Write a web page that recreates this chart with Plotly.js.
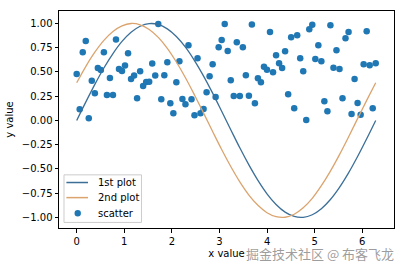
<!DOCTYPE html>
<html>
<head>
<meta charset="utf-8">
<script src="https://cdn.plot.ly/plotly-3.0.1.min.js"></script>
<style>
  html, body { margin: 0; padding: 0; background: #ffffff; }
  #chart { width: 404px; height: 266px; }
</style>
</head>
<body>
<div id="chart"></div>
<script>
// Line sample positions and values
const lineX = [0, 0.190, 0.381, 0.571, 0.762, 0.952, 1.142, 1.333, 1.523, 1.714, 1.904, 2.094, 2.285, 2.475, 2.666, 2.856, 3.046, 3.237, 3.427, 3.618, 3.808, 3.998, 4.189, 4.379, 4.570, 4.760, 4.950, 5.141, 5.331, 5.522, 5.712, 5.902, 6.093, 6.283];
const firstPlotY = [0, 0.189, 0.372, 0.541, 0.690, 0.815, 0.910, 0.972, 0.999, 0.990, 0.945, 0.866, 0.756, 0.618, 0.458, 0.282, 0.095, -0.095, -0.282, -0.458, -0.618, -0.756, -0.866, -0.945, -0.990, -0.999, -0.972, -0.910, -0.815, -0.690, -0.541, -0.372, -0.189, 0];
const secondPlotY = [0.389, 0.556, 0.704, 0.826, 0.918, 0.976, 1.000, 0.987, 0.938, 0.857, 0.744, 0.603, 0.441, 0.263, 0.076, -0.114, -0.300, -0.475, -0.633, -0.769, -0.875, -0.951, -0.992, -0.998, -0.967, -0.900, -0.803, -0.673, -0.522, -0.352, -0.170, 0.019, 0.207, 0.389];

// Scatter points
const scatterX = [0, 0.063, 0.127, 0.190, 0.254, 0.317, 0.381, 0.444, 0.508, 0.571, 0.635, 0.698, 0.762, 0.825, 0.889, 0.952, 1.015, 1.079, 1.142, 1.206, 1.269, 1.333, 1.396, 1.460, 1.523, 1.587, 1.650, 1.714, 1.777, 1.841, 1.904, 1.967, 2.031, 2.094, 2.158, 2.221, 2.285, 2.348, 2.412, 2.475, 2.539, 2.602, 2.666, 2.729, 2.792, 2.856, 2.919, 2.983, 3.046, 3.110, 3.173, 3.237, 3.300, 3.364, 3.427, 3.491, 3.554, 3.618, 3.681, 3.744, 3.808, 3.871, 3.935, 3.998, 4.062, 4.125, 4.189, 4.252, 4.316, 4.379, 4.443, 4.506, 4.570, 4.633, 4.696, 4.760, 4.823, 4.887, 4.950, 5.014, 5.077, 5.141, 5.204, 5.268, 5.331, 5.395, 5.458, 5.522, 5.585, 5.648, 5.712, 5.775, 5.839, 5.902, 5.966, 6.029, 6.093, 6.156, 6.220, 6.283];
const scatterY = [0.479, 0.116, 0.703, 0.819, 0.024, 0.410, 0.281, 0.541, 0.521, 0.703, 0.263, 0.438, 0.263, 0.836, 0.531, 0.510, 0.567, 0.692, 0.428, 0.464, 0.229, 0.508, 0.356, 0.397, 0.400, 0.587, 0.464, 0.995, 0.219, 0.466, 0.600, 0.178, 0.075, 0.394, 0.610, 0.222, 0.168, 0.775, 0.219, 0.055, 0.641, 0.075, 0.119, 0.291, 0.456, 0.579, 0.243, 0.754, 0.829, 0.995, 0.716, 0.415, 0.253, 0.807, 0.253, 0.754, 0.467, 0.255, 0.990, 0.178, 0.435, 0.394, 0.553, 0.523, 0.912, 0.497, 0.672, 0.590, 0.541, 0.713, 0.271, 0.857, 0.127, 0.879, 0.641, 0.507, 0.004, 0.942, 0.986, 0.634, 0.775, 0.610, 0.199, 0.096, 0.981, 0.543, 0.724, 0.531, 0.230, 0.848, 0.912, 0.066, 0.428, 0.179, 0.058, 0.579, 0.920, 0.569, 0.127, 0.590];

const seriesNames = ['1st plot', '2nd plot', 'scatter'];
const yTickVals = [-1.0, -0.75, -0.5, -0.25, 0.0, 0.25, 0.5, 0.75, 1.0];
const yTickText = ['\u22121.00', '\u22120.75', '\u22120.50', '\u22120.25', '0.00', '0.25', '0.50', '0.75', '1.00'];
const xTickVals = [0, 1, 2, 3, 4, 5, 6];

const blue = '#3b6f98', orange = '#dba46e', dotBlue = '#1f77b4';

const traces = [
  {
    x: scatterX, y: scatterY, type: 'scatter', mode: 'markers', name: seriesNames[2],
    marker: { color: dotBlue, size: 6.5 }
  },
  {
    x: lineX, y: firstPlotY, type: 'scatter', mode: 'lines', name: seriesNames[0],
    line: { color: blue, width: 1.3, shape: 'spline' }
  },
  {
    x: lineX, y: secondPlotY, type: 'scatter', mode: 'lines', name: seriesNames[1],
    line: { color: orange, width: 1.3, shape: 'spline' }
  }
];

const axisCommon = {
  showgrid: false, zeroline: false, showline: true, mirror: true,
  linecolor: '#000000', linewidth: 1, ticks: 'outside', ticklen: 3.5,
  tickwidth: 1, tickcolor: '#000000',
  tickfont: { family: 'DejaVu Sans', size: 10, color: '#000000' }
};

// Compact legend (matplotlib style) drawn with paper-positioned shapes + text
const legBox = { x0: 0.0149, x1: 0.2462, y0: 0.0257, y1: 0.2449 };
const legRows = [0.2096, 0.1400, 0.0680];
const legSymX0 = 0.0221, legSymX1 = 0.0866, legDotX = 0.0559, legTextX = 0.1097;

const shapes = [
  { type: 'rect', xref: 'paper', yref: 'paper', layer: 'above',
    x0: legBox.x0, x1: legBox.x1, y0: legBox.y0, y1: legBox.y1,
    fillcolor: 'rgba(255,255,255,0.8)', line: { color: '#cccccc', width: 1 } },
  { type: 'line', xref: 'paper', yref: 'paper', layer: 'above',
    x0: legSymX0, x1: legSymX1, y0: legRows[0], y1: legRows[0],
    line: { color: blue, width: 1.5 } },
  { type: 'line', xref: 'paper', yref: 'paper', layer: 'above',
    x0: legSymX0, x1: legSymX1, y0: legRows[1], y1: legRows[1],
    line: { color: orange, width: 1.5 } },
  { type: 'circle', xref: 'paper', yref: 'paper', layer: 'above',
    xsizemode: 'pixel', ysizemode: 'pixel', xanchor: legDotX, yanchor: legRows[2],
    x0: -3.2, x1: 3.2, y0: -3.2, y1: 3.2,
    fillcolor: dotBlue, line: { color: dotBlue, width: 0 } }
];

const annotations = seriesNames.map((name, i) => ({
  text: name, xref: 'paper', yref: 'paper', x: legTextX, y: legRows[i],
  xanchor: 'left', yanchor: 'middle', showarrow: false,
  font: { family: 'DejaVu Sans', size: 10, color: '#000000' }
}));
annotations.push({
  text: '掘金技术社区 @ 布客飞龙', xref: 'paper', yref: 'paper',
  x: 1.003, y: -0.116, xanchor: 'right', yanchor: 'middle', showarrow: false,
  borderpad: 0,
  font: { family: 'Noto Sans CJK SC', size: 13, color: 'rgba(140,140,140,0.85)' }
});

const layout = {
  width: 404, height: 266,
  margin: { l: 59, r: 10, t: 11, b: 38 },
  paper_bgcolor: '#ffffff', plot_bgcolor: '#ffffff',
  font: { family: 'DejaVu Sans', size: 10, color: '#000000' },
  xaxis: Object.assign({}, axisCommon, {
    range: [-0.372, 6.667], tickvals: xTickVals,
    title: { text: 'x value', font: { family: 'DejaVu Sans', size: 10 }, standoff: 4 }
  }),
  yaxis: Object.assign({}, axisCommon, {
    range: [-1.109, 1.129], tickvals: yTickVals, ticktext: yTickText,
    title: { text: 'y value', font: { family: 'DejaVu Sans', size: 10 }, standoff: 6 }
  }),
  showlegend: false,
  shapes: shapes,
  annotations: annotations
};

Plotly.newPlot('chart', traces, layout, { displayModeBar: false, staticPlot: true });
</script>
</body>
</html>
